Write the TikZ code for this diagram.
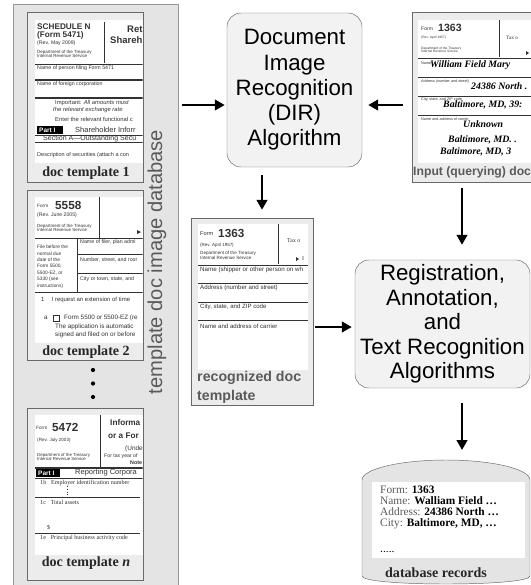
\documentclass[tikz,border=0pt]{standalone}
\usepackage{fontspec}
\setmainfont{Liberation Serif}
\setsansfont{Liberation Sans}
\usetikzlibrary{arrows.meta}

\definecolor{panel}{RGB}{228,228,228}
\definecolor{framefill}{RGB}{236,236,236}
\definecolor{edge}{RGB}{105,105,105}
\definecolor{boxfill}{RGB}{242,242,242}
\definecolor{ink}{RGB}{50,50,50}
\definecolor{caption}{RGB}{90,90,90}

\newcommand{\fsz}[1]{\fontsize{#1}{#1}\selectfont}

\begin{document}
\begin{tikzpicture}[x=0.03cm, y=-0.03cm,
    algo/.style={draw=edge, fill=boxfill, rounded corners=12pt, align=center, inner sep=0pt, font=\sffamily\fontsize{19}{21.6}\selectfont},
    docframe/.style={draw=edge, fill=framefill, inner sep=0pt},
    arrow/.style={-{Triangle[length=8.5pt, width=9pt]}, line width=2pt},
    doclabel/.style={font=\bfseries\fsz{12}, inner sep=0pt, text=black!85},
    ft/.style={inner sep=0pt, anchor=west, text=ink},
    fs/.style={ft, font=\sffamily\fsz{#1}},
    fsb/.style={ft, font=\sffamily\bfseries\fsz{#1}},
    fss/.style={ft, font=\fsz{#1}},
    fhand/.style={ft, text=black, font=\bfseries\itshape\fsz{8.4}},
    fline/.style={draw=ink, line width=0.4pt},
    fthick/.style={draw=ink, line width=1pt}
  ]
  \useasboundingbox (0,0) rectangle (531,585);

  % Template database
  \node[draw=edge!70, fill=panel, minimum width=4.95cm, minimum height=17.58cm, inner sep=0pt] (db) at (95.5,297) {};
  \node[rotate=90, font=\sffamily\fsz{17.2}, text=caption] (dblabel) at (157,262) {template doc image database};

  \node[docframe, minimum width=3.48cm, minimum height=5.1cm] (t1) at (85,97) {};
  \node[docframe, minimum width=3.48cm, minimum height=5.1cm] (t2) at (85,275) {};
  \node[docframe, minimum width=3.48cm, minimum height=5.16cm] (tn) at (85,494) {};
  \fill[white] (35,20) rectangle (142.5,163);
  \fill[white] (35,197) rectangle (142.5,343);
  \fill[white] (35,415) rectangle (142.5,555);

  % Schedule N
  \begin{scope}
    \clip (35,20) rectangle (142.5,163);
    \node[fsb=7] (a1) at (37,27) {SCHEDULE N};
    \node[fsb=7] (a2) at (37,35) {(Form 5471)};
    \node[fs=4.4] (a3) at (37,43) {(Rev. May 2009)};
    \node[fs=3.8, align=left] (a4) at (37,54) {Department of the Treasury\\Internal Revenue Service};
    \draw[fline] (104,22) -- (104,63);
    \node[fsb=8.1] (a5) at (127,29) {Ret};
    \node[fsb=8.1] (a6) at (110,40) {Shareh};
    \draw[fline] (35,64) -- (143,64);
    \node[fs=4.5] (a7) at (37,68) {Name of person filing Form 5471};
    \draw[fthick] (35,80) -- (143,80);
    \node[fs=4.5] (a8) at (37,84) {Name of foreign corporation};
    \draw[fthick] (35,98) -- (143,98);
    \node[fs=5] (a9) at (55,103) {Important: \textit{All amounts must}};
    \node[ft, font=\sffamily\itshape\fsz{5}] (a10) at (53,110) {the relevant exchange rate};
    \node[fs=5] (a11) at (55,119) {Enter the relevant functional c};
    \fill[black] (37,126) rectangle (63,134);
    \node[fsb=5.5, text=white] (a12) at (39,130) {Part I};
    \node[fs=6.4] (a13) at (75,130) {Shareholder Inforr};
    \draw[fline] (35,135) -- (143,135);
    \node[fs=6] (a14) at (43,138.5) {Section A—Outstanding Secu};
    \draw[fthick] (35,142.5) -- (143,142.5);
    \node[fs=4.7] (a15) at (37,155) {Description of securities (attach a con};
  \end{scope}

  % Form 5558
  \begin{scope}
    \clip (35,197) rectangle (142.5,343);
    \node[fs=4] (b1) at (37,206) {Form};
    \node[fsb=10] (b2) at (55,205) {5558};
    \node[fs=4.4] (b3) at (37,215) {(Rev. June 2005)};
    \node[fs=3.8, align=left] (b4) at (37,228) {Department of the Treasury\\Internal Revenue Service};
    \draw[fline] (99,197) -- (99,238);
    \fill[ink] (137,230) -- (141,232) -- (137,234) -- cycle;
    \draw[fline] (35,238) -- (143,238);
    \foreach \txt [count=\i] in {File before the, normal due, date of the, {Form 5500,}, {5500-EZ, or}, 5330 (see, instructions)}
      \node[fs=4.1] (b5\i) at (37,240.5+6.5*\i) {\txt};
    \draw[fline] (77,238) -- (77,292);
    \node[fs=4.5] (b6) at (80,242) {Name of filer, plan admi};
    \draw[fline] (77,254) -- (143,254);
    \node[fs=4.5] (b7) at (80,260) {Number, street, and roor};
    \draw[fline] (77,273) -- (143,273);
    \node[fs=4.5] (b8) at (80,279) {City or town, state, and};
    \draw[fline] (35,292) -- (143,292);
    \node[fs=5.1] (b9) at (41,300) {1\hspace{1.2em}I request an extension of time};
    \node[fs=5.4] (b10) at (44,318) {a};
    \draw[fline] (53,315) rectangle (59,321);
    \node[fs=5.4] (b11) at (64,318) {Form 5500 or 5500-EZ (re};
    \node[fs=5.4] (b12) at (55,327) {The application is automatic};
    \node[fs=5.4] (b13) at (55,335) {signed and filed on or before};
  \end{scope}

  % Form 5472
  \begin{scope}
    \clip (35,415) rectangle (142.5,555);
    \node[fs=4] (c1) at (36,428) {Form};
    \node[fsb=10] (c2) at (52,427) {5472};
    \node[fs=3.9] (c3) at (37,440) {(Rev. July 2003)};
    \node[fs=3.7, align=left] (c4) at (37,457) {Department of the Treasury\\Internal Revenue Service};
    \draw[fline] (100,415) -- (100,467);
    \node[fsb=7] (c5) at (110,423) {Informa};
    \node[fsb=7] (c6) at (108,436) {or a For};
    \node[fs=5.5] (c7) at (125,449) {(Unde};
    \node[fs=4.4] (c8) at (104,456) {For tax year of};
    \node[fsb=4.5] (c9) at (130,463) {Note};
    \draw[fthick] (35,468) -- (143,468);
    \fill[black] (36,469) rectangle (60,477);
    \node[fsb=5.5, text=white] (c10) at (38,473) {Part I};
    \node[fs=6.4] (c11) at (75,473) {Reporting Corpora};
    \draw[fline] (35,478) -- (143,478);
    \node[fss=5.2] (c12) at (40,483) {1b\hspace{0.8em}Employer identification number};
    \draw[fline, dotted] (67,486) -- (67,496);
    \draw[fline] (35,497) -- (140,497);
    \node[fss=5.2] (c13) at (40,502) {1c\hspace{0.8em}Total assets};
    \node[fss=5.2] (c14) at (47,528) {\$};
    \draw[fline] (35,533) -- (140,533);
    \node[fss=5.2] (c15) at (40,538) {1e\hspace{0.8em}Principal business activity code};
  \end{scope}

  \node[doclabel] (l1) at (86,173) {doc template 1};
  \node[doclabel] (l2) at (86,352) {doc template 2};
  \node[doclabel] (ln) at (86,563) {doc template \textit{n}};
  \foreach \y in {370,383.5,397} \fill (93,\y) circle (1.8pt);

  % DIR algorithm
  \node[algo, minimum width=4.05cm, minimum height=4.62cm] (dir) at (294.5,90) {Document\\Image\\Recognition\\(DIR)\\Algorithm};

  % Input document
  \node[docframe, minimum width=3.84cm, minimum height=5.1cm] (input) at (476,97) {};
  \fill[white] (418,20) rectangle (531,163);
  \begin{scope}
    \clip (418,20) rectangle (531,163);
    \node[fs=4.3] (d1) at (421,29) {Form};
    \node[fsb=9] (d2) at (438,28) {1363};
    \node[fs=2.8] (d3) at (421,38) {(Rev. April 1957)};
    \node[fs=2.8, align=left] (d4) at (421,49.5) {Department of the Treasury\\Internal Revenue Service};
    \draw[fline] (499,20) -- (499,57);
    \node[fss=4.5] (d5) at (506,38) {Tax o};
    \fill[ink] (526,51) -- (529,53) -- (526,55) -- cycle;
    \draw[fline] (418,58) -- (531,58);
    \node[fs=3.2] (d6) at (421,63) {Name};
    \node[fhand] (d7) at (430,65) {William Field Mary};
    \draw[fline] (418,77) -- (531,77);
    \node[fs=3.2] (d8) at (421,82) {Address (number and street)};
    \node[fhand] (d9) at (471,86) {24386 North .};
    \draw[fline] (418,96) -- (531,96);
    \node[fs=3.2] (d10) at (421,100) {City, state, and ZIP code};
    \node[fhand] (d11) at (443,105) {Baltimore, MD, 39:};
    \draw[fline] (418,115) -- (531,115);
    \node[fs=3.2] (d12) at (421,119) {Name and address of carrier};
    \node[fhand] (d13) at (463,124) {Unknown};
    \node[fhand] (d14) at (448,140) {Baltimore, MD. .};
    \node[fhand] (d15) at (440,152) {Baltimore, MD, 3};
  \end{scope}
  \node[anchor=west, inner sep=0pt, font=\sffamily\bfseries\fsz{10.4}, text=caption] (inlabel) at (413,172) {Input (querying) doc};

  % Recognized template
  \node[docframe, minimum width=3.66cm, minimum height=5.61cm] (rec) at (252,311.5) {};
  \fill[white] (198,224) rectangle (308,370);
  \begin{scope}
    \clip (198,224) rectangle (308,370);
    \node[fs=4.8] (e1) at (200,234) {Form};
    \node[fsb=10] (e2) at (218,233) {1363};
    \node[fs=3.8] (e3) at (200,245) {(Rev. April 1957)};
    \node[fs=3.9, align=left] (e4) at (200,255.5) {Department of the Treasury\\Internal Revenue Service};
    \draw[fline] (278,224) -- (278,264);
    \node[fss=5] (e5) at (287,241) {Tax o};
    \fill[ink] (296,257) -- (299,259) -- (296,261) -- cycle;
    \node[fss=5] (e6) at (302,259) {I};
    \draw[fline] (198,265) -- (308,265);
    \node[fs=5.3] (e7) at (200,270) {Name (shipper or other person on wh};
    \draw[fline] (198,283) -- (308,283);
    \node[fs=5.2] (e8) at (200,288) {Address (number and street)};
    \draw[fline] (198,302) -- (308,302);
    \node[fs=5.2] (e9) at (200,307) {City, state, and ZIP code};
    \draw[fline] (198,320) -- (308,320);
    \node[fs=5.2] (e10) at (200,326) {Name and address of carrier};
  \end{scope}
  \node[anchor=west, inner sep=0pt, align=left, font=\sffamily\bfseries\fontsize{12.1}{16.2}\selectfont, text=caption] (reclabel) at (197,387.5) {recognized doc\\template};

  % Registration and recognition
  \node[algo, minimum width=5.25cm, minimum height=3.84cm, font=\sffamily\fontsize{19}{20.9}\selectfont] (reg) at (442.5,324) {Registration,\\Annotation,\hspace*{0.7em}\\and\\Text Recognition\\Algorithms};

  % Database records
  \filldraw[draw=edge, fill=panel] (362,480) .. controls (362,469) and (400,460) .. (446,460) .. controls (492,460) and (530,469) .. (530,480) -- (530,576) .. controls (530,581) and (492,584) .. (446,584) .. controls (400,584) and (362,581) .. (362,576) -- cycle;
  \coordinate (dbtop) at (446,460);
  \fill[white] (372,482) rectangle (525,558);
  \foreach \key/\val [count=\i from 0] in {Form:/1363, Name:/Walliam Field \ldots, Address:/24386 North \ldots, City:/{Baltimore, MD, \ldots}}
    \node[fss=9.7, anchor=base west, text=black] (r\i) at (380,493+11*\i) {\textcolor{caption}{\key} \textbf{\val}};
  \node[fss=9.7, anchor=base west, text=black] (rdots) at (380,552) {.....};
  \node[doclabel] (rlabel) at (436,573) {database records};

  % Arrows
  \coordinate (toprow) at (0,105);
  \coordinate (midrow) at (0,327);
  \coordinate (leftcol) at (262,0);
  \coordinate (rightcol) at (462,0);
  \draw[arrow, shorten <=0.12cm, shorten >=0.06cm] (db.east |- toprow) -- (dir.west |- toprow);
  \draw[arrow, shorten <=0.27cm, shorten >=0.18cm] (input.west |- toprow) -- (dir.east |- toprow);
  \draw[arrow, shorten <=0.24cm, shorten >=0.24cm] (dir.south -| leftcol) -- (rec.north -| leftcol);
  \draw[arrow, shorten <=0.18cm, shorten >=0.45cm] (input.south -| rightcol) -- (reg.north -| rightcol);
  \draw[arrow, shorten <=0.06cm, shorten >=0.09cm] (rec.east |- midrow) -- (reg.west |- midrow);
  \draw[arrow, shorten <=0.45cm, shorten >=0.3cm] (reg.south -| rightcol) -- (dbtop -| rightcol);
\end{tikzpicture}
\end{document}
